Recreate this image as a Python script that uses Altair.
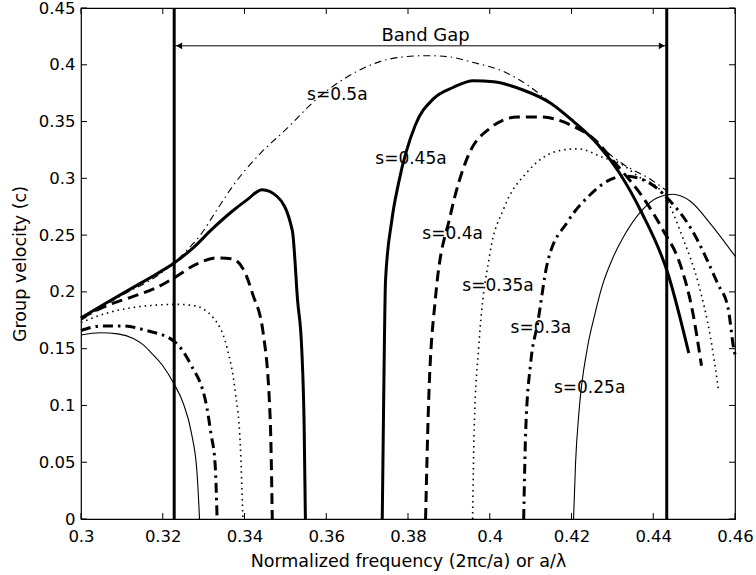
import altair as alt
import pandas as pd

# ---------------- data ----------------
XTICKS = [0.30, 0.32, 0.34, 0.36, 0.38, 0.40, 0.42, 0.44, 0.46]
YTICKS = [0.0, 0.05, 0.10, 0.15, 0.20, 0.25, 0.30, 0.35, 0.40, 0.45]

# s = 0.5a (thin dash-dot)
S50_F = [0.300, 0.310, 0.3186, 0.3226, 0.3260, 0.3292, 0.3332, 0.3373, 0.3439, 0.3504,
         0.3577, 0.3650, 0.3733, 0.3790, 0.3847, 0.3900, 0.3960, 0.4034, 0.4093, 0.4150,
         0.4198, 0.4264, 0.4328, 0.4394, 0.4433]
S50_V = [0.175, 0.197, 0.214, 0.225, 0.237, 0.250, 0.272, 0.294, 0.322, 0.344,
         0.370, 0.389, 0.403, 0.407, 0.408, 0.407, 0.402, 0.394, 0.382, 0.366,
         0.352, 0.330, 0.312, 0.299, 0.289]

# s = 0.45a (thick solid)
S45_LF = [0.300, 0.307, 0.3128, 0.3186, 0.3226, 0.3275, 0.3320, 0.3370, 0.3406, 0.3443,
          0.3480, 0.3517, 0.3530, 0.3540, 0.3546, 0.3549]
S45_LV = [0.177, 0.192, 0.204, 0.216, 0.225, 0.239, 0.255, 0.271, 0.281, 0.290,
          0.284, 0.254, 0.192, 0.150, 0.080, 0.000]
S45_RF = [0.3737, 0.3741, 0.3745, 0.3760, 0.3777, 0.3818, 0.3862, 0.3910, 0.3960, 0.4010,
          0.4080, 0.4150, 0.4205, 0.4264, 0.4315, 0.4370, 0.4436, 0.4487]
S45_RV = [0.000, 0.120, 0.210, 0.262, 0.296, 0.347, 0.370, 0.380, 0.386, 0.385,
          0.378, 0.366, 0.350, 0.330, 0.306, 0.271, 0.216, 0.146]

# s = 0.4a (thick dashed)
S40_LF = [0.300, 0.307, 0.3128, 0.3186, 0.3226, 0.3280, 0.3333, 0.3370, 0.3400, 0.3420,
          0.3446, 0.3463, 0.3468]
S40_LV = [0.177, 0.189, 0.196, 0.204, 0.212, 0.224, 0.230, 0.229, 0.218, 0.198,
          0.163, 0.087, 0.000]
S40_RF = [0.3843, 0.3850, 0.3867, 0.3904, 0.3945, 0.4000, 0.4068, 0.4124, 0.4198, 0.4260,
          0.4303, 0.4377, 0.4423, 0.4468, 0.4495, 0.4518]
S40_RV = [0.000, 0.098, 0.194, 0.268, 0.318, 0.344, 0.354, 0.354, 0.347, 0.333,
          0.315, 0.282, 0.255, 0.222, 0.185, 0.135]

# s = 0.35a (dotted)
S35_LF = [0.300, 0.307, 0.317, 0.3235, 0.3275, 0.3324, 0.3357, 0.3377, 0.3390, 0.3396]
S35_LV = [0.173, 0.182, 0.188, 0.189, 0.188, 0.177, 0.151, 0.113, 0.063, 0.000]
S35_RF = [0.3958, 0.3962, 0.3973, 0.4000, 0.4035, 0.4093, 0.4166, 0.4215, 0.4280, 0.4320,
          0.4362, 0.4423, 0.4475, 0.4510, 0.4540, 0.4560]
S35_RV = [0.000, 0.080, 0.151, 0.233, 0.274, 0.306, 0.324, 0.326, 0.318, 0.313,
          0.302, 0.287, 0.245, 0.208, 0.160, 0.113]

# s = 0.3a (thick dash-dot)
S30_LF = [0.300, 0.305, 0.310, 0.316, 0.3226, 0.3267, 0.3308, 0.3318, 0.3328, 0.3333]
S30_LV = [0.166, 0.170, 0.170, 0.166, 0.157, 0.137, 0.098, 0.075, 0.049, 0.000]
S30_RF = [0.4083, 0.4088, 0.4100, 0.4117, 0.4142, 0.4191, 0.4247, 0.4290, 0.4330, 0.4380,
          0.4436, 0.4492, 0.4558, 0.4583, 0.4597, 0.4600]
S30_RV = [0.000, 0.078, 0.137, 0.172, 0.227, 0.262, 0.286, 0.298, 0.302, 0.298,
          0.282, 0.256, 0.207, 0.186, 0.150, 0.145]

# s = 0.25a (thin solid)
S25_LF = [0.300, 0.3047, 0.3090, 0.3128, 0.3150, 0.3170, 0.3200, 0.3226, 0.3250, 0.3270,
          0.3284, 0.3290]
S25_LV = [0.162, 0.164, 0.163, 0.159, 0.154, 0.147, 0.135, 0.120, 0.102, 0.076,
          0.040, 0.000]
S25_RF = [0.4205, 0.4210, 0.4218, 0.4239, 0.4257, 0.4275, 0.4300, 0.4328, 0.4370, 0.4410,
          0.4448, 0.4490, 0.4541, 0.4600]
S25_RV = [0.000, 0.050, 0.093, 0.151, 0.180, 0.205, 0.229, 0.249, 0.271, 0.283,
          0.286, 0.280, 0.2595, 0.2315]

# band-gap edges and arrow
GAP_EDGES = [0.3228, 0.4433]
GAP_ARROW_V = 0.4167
GAP_TEXT = "Band Gap"
GAP_TEXT_F = 0.3843
GAP_TEXT_V = 0.425

# curve labels
LABEL_TEXT = ["s=0.5a", "s=0.45a", "s=0.4a", "s=0.35a", "s=0.3a", "s=0.25a"]
LABEL_F = [0.3553, 0.3720, 0.3835, 0.3933, 0.4051, 0.4157]
LABEL_V = [0.3736, 0.3166, 0.2508, 0.2052, 0.1684, 0.1158]

# ---------------- build table ----------------
segments = [
    ("s50", "s50", S50_F, S50_V),
    ("s45", "s45L", S45_LF, S45_LV), ("s45", "s45R", S45_RF, S45_RV),
    ("s40", "s40L", S40_LF, S40_LV), ("s40", "s40R", S40_RF, S40_RV),
    ("s35", "s35L", S35_LF, S35_LV), ("s35", "s35R", S35_RF, S35_RV),
    ("s30", "s30L", S30_LF, S30_LV), ("s30", "s30R", S30_RF, S30_RV),
    ("s25", "s25L", S25_LF, S25_LV), ("s25", "s25R", S25_RF, S25_RV),
]
rows = []
for curve, seg, fs, vs in segments:
    for i, (f, v) in enumerate(zip(fs, vs)):
        rows.append({"f": f, "v": v, "curve": curve, "seg": seg, "ord": i})
df = pd.DataFrame(rows)

styles = {
    "s50": dict(strokeWidth=1.1, strokeDash=[7, 4, 1.5, 4]),
    "s45": dict(strokeWidth=3.0),
    "s40": dict(strokeWidth=3.0, strokeDash=[11, 6]),
    "s35": dict(strokeWidth=1.6, strokeDash=[1.5, 4]),
    "s30": dict(strokeWidth=3.0, strokeDash=[10, 5, 2.5, 5]),
    "s25": dict(strokeWidth=1.1),
}

W, H = 654, 511
FONT = "DejaVu Sans"

xscale = alt.Scale(domain=[0.3, 0.46], nice=False, zero=False)
yscale = alt.Scale(domain=[0, 0.45], nice=False, zero=False)

xaxis = alt.Axis(values=XTICKS, format=".2~f", title="Normalized frequency (2πc/a) or a/λ",
                 grid=False, domain=False, ticks=False, labelPadding=9,
                 labelFont=FONT, labelFontSize=16.5, labelColor="black",
                 titleFont=FONT, titleFontSize=17.5, titleFontWeight="normal",
                 titleColor="black", titlePadding=8, labelFlush=False)
yaxis = alt.Axis(values=YTICKS, format=".2~f", title="Group velocity (c)",
                 grid=False, domain=False, ticks=False, labelPadding=6,
                 labelFont=FONT, labelFontSize=16.5, labelColor="black",
                 titleFont=FONT, titleFontSize=17.5, titleFontWeight="normal",
                 titleColor="black", titlePadding=9, labelFlush=False)


def X(field="f:Q"):
    return alt.X(field, scale=xscale, axis=xaxis)


def Y(field="v:Q"):
    return alt.Y(field, scale=yscale, axis=yaxis)


base = alt.Chart(df)
layers = []
for curve, st in styles.items():
    layer = base.transform_filter(alt.datum.curve == curve).mark_line(
        color="black", interpolate="monotone", **st
    ).encode(
        x=X(), y=Y(),
        detail="seg:N",
        order="ord:Q",
    )
    layers.append(layer)

# band-gap vertical lines
edges = alt.Chart(pd.DataFrame({"f": GAP_EDGES})).mark_rule(color="black", strokeWidth=3).encode(
    x=X(), y=alt.value(0), y2=alt.value(H),
)
layers.append(edges)

# arrow
arrow_df = pd.DataFrame({"f": [GAP_EDGES[0]], "f2": [GAP_EDGES[1]], "v": [GAP_ARROW_V]})
arrow = alt.Chart(arrow_df).mark_rule(color="black", strokeWidth=1).encode(
    x=X(), x2="f2:Q", y=Y()
)
layers.append(arrow)
headL = alt.Chart(pd.DataFrame({"f": [GAP_EDGES[0]], "v": [GAP_ARROW_V]})).mark_point(
    shape="triangle-left", filled=True, color="black", size=45, xOffset=5, opacity=1
).encode(x=X(), y=Y())
headR = alt.Chart(pd.DataFrame({"f": [GAP_EDGES[1]], "v": [GAP_ARROW_V]})).mark_point(
    shape="triangle-right", filled=True, color="black", size=45, xOffset=-5, opacity=1
).encode(x=X(), y=Y())
layers += [headL, headR]

gap_text = alt.Chart(pd.DataFrame({"t": [GAP_TEXT], "f": [GAP_TEXT_F], "v": [GAP_TEXT_V]})).mark_text(
    font=FONT, fontSize=18, color="black", align="center", baseline="middle"
).encode(x=X(), y=Y(), text="t:N")
layers.append(gap_text)

labels = alt.Chart(pd.DataFrame({"t": LABEL_TEXT, "f": LABEL_F, "v": LABEL_V})).mark_text(
    font=FONT, fontSize=17, color="black", align="left", baseline="middle"
).encode(x=X(), y=Y(), text="t:N")
layers.append(labels)

# inward ticks on all four sides
TL = 6
xt = pd.DataFrame({"f": XTICKS})
yt = pd.DataFrame({"v": YTICKS})
layers.append(alt.Chart(xt).mark_rule(color="black", strokeWidth=1).encode(
    x=X(), y=alt.value(H), y2=alt.value(H - TL)))
layers.append(alt.Chart(xt).mark_rule(color="black", strokeWidth=1).encode(
    x=X(), y=alt.value(0), y2=alt.value(TL)))
layers.append(alt.Chart(yt).mark_rule(color="black", strokeWidth=1).encode(
    y=Y(), x=alt.value(0), x2=alt.value(TL)))
layers.append(alt.Chart(yt).mark_rule(color="black", strokeWidth=1).encode(
    y=Y(), x=alt.value(W), x2=alt.value(W - TL)))

chart = alt.layer(*layers).properties(
    width=W, height=H,
    padding={"left": 81, "top": 8, "right": 21, "bottom": 56},
    autosize=alt.AutoSizeParams(type="none"),
    background="white",
).configure_view(stroke="black", strokeWidth=1.2)

chart.save("out.html", embed_options={"renderer": "svg", "actions": False})
